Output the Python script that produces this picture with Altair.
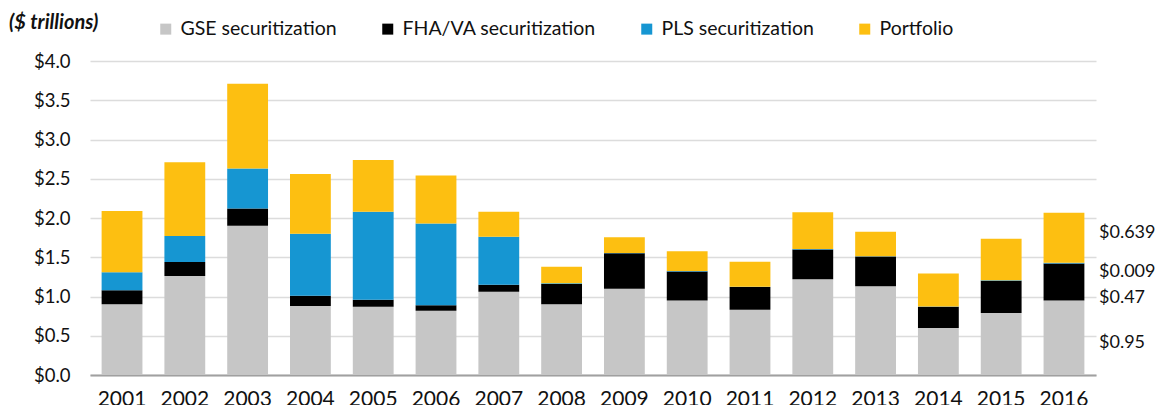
import altair as alt
import pandas as pd

years = ["2001", "2002", "2003", "2004", "2005", "2006", "2007", "2008",
         "2009", "2010", "2011", "2012", "2013", "2014", "2015", "2016"]
series = ["GSE securitization", "FHA/VA securitization", "PLS securitization", "Portfolio"]
gse = [0.90, 1.26, 1.90, 0.88, 0.87, 0.82, 1.06, 0.90, 1.10, 0.95, 0.83, 1.22, 1.13, 0.60, 0.79, 0.95]
fha = [0.18, 0.18, 0.22, 0.13, 0.09, 0.07, 0.09, 0.26, 0.45, 0.37, 0.29, 0.38, 0.38, 0.27, 0.41, 0.47]
pls = [0.23, 0.33, 0.51, 0.79, 1.12, 1.04, 0.61, 0.01, 0.005, 0.005, 0.004, 0.004, 0.004, 0.004, 0.006, 0.009]
portfolio = [0.78, 0.94, 1.08, 0.76, 0.66, 0.61, 0.32, 0.21, 0.20, 0.25, 0.32, 0.47, 0.31, 0.42, 0.53, 0.639]
colors = ["#c6c6c6", "#000000", "#1696d2", "#fdbf11"]
y_ticks = [0, 0.5, 1, 1.5, 2, 2.5, 3, 3.5, 4]

note_labels = ["$0.639", "$0.009", "$0.47", "$0.95"]
note_pos = [1.81, 1.31, 0.98, 0.41]

rows = []
for i, y in enumerate(years):
    for k, (name, vals) in enumerate(zip(series, [gse, fha, pls, portfolio])):
        rows.append({"year": y, "series": name, "value": vals[i], "order": k})
df = pd.DataFrame(rows)

FONT = "Lato"
TXT = "#111111"

y_axis = alt.Axis(values=y_ticks, labelOverlap=False,
                  labelExpr="'$' + format(datum.value, '.1f')",
                  ticks=False, domain=False, gridColor="#dcdcdc", gridWidth=1.5,
                  labelFontSize=18.5, labelFont=FONT, labelColor=TXT,
                  labelPadding=20)
y_scale = alt.Scale(domain=[0, 4], nice=False)

bars = alt.Chart(df).mark_bar().encode(
    x=alt.X("year:N", title=None, sort=years,
            scale=alt.Scale(paddingInner=0.35, paddingOuter=0.185),
            axis=alt.Axis(labelAngle=0, ticks=False, domainColor="#a0a0a0", domainWidth=2,
                          labelFontSize=21, labelFont=FONT, labelColor=TXT,
                          labelPadding=13, grid=False)),
    y=alt.Y("value:Q", title=None, stack="zero", scale=y_scale, axis=y_axis),
    color=alt.Color("series:N", sort=series,
                    scale=alt.Scale(domain=series, range=colors),
                    legend=alt.Legend(title=None, orient="none", legendX=66, legendY=-42,
                                      direction="horizontal", symbolType="square",
                                      symbolSize=121, symbolStrokeWidth=0,
                                      labelFontSize=19.5, labelFont=FONT, labelColor=TXT,
                                      labelLimit=400, columnPadding=41, labelOffset=5)),
    order=alt.Order("order:Q", sort="ascending"),
)

notes_df = pd.DataFrame({"label": note_labels, "pos": note_pos})
notes = alt.Chart(notes_df).mark_text(
    align="left", baseline="middle", fontSize=18, font=FONT, color=TXT
).encode(
    x=alt.value(1009),
    y=alt.Y("pos:Q", title=None, scale=y_scale, axis=y_axis),
    text="label:N",
)

unit_df = pd.DataFrame({"t": ["($ trillions)"]})
unit = alt.Chart(unit_df).mark_text(
    align="left", baseline="middle", fontSize=20, font=FONT, fontStyle="italic",
    fontWeight="bold", color=TXT
).encode(
    x=alt.value(-81),
    y=alt.value(-38),
    text="t:N",
)

chart = alt.layer(bars, notes, unit).properties(
    width=1006, height=314,
    autosize=alt.AutoSizeParams(type="none"),
    padding={"left": 82, "top": 53, "right": 60, "bottom": 30},
).configure_view(stroke=None)

chart.save("out.html", embed_options={"renderer": "svg", "actions": False})
